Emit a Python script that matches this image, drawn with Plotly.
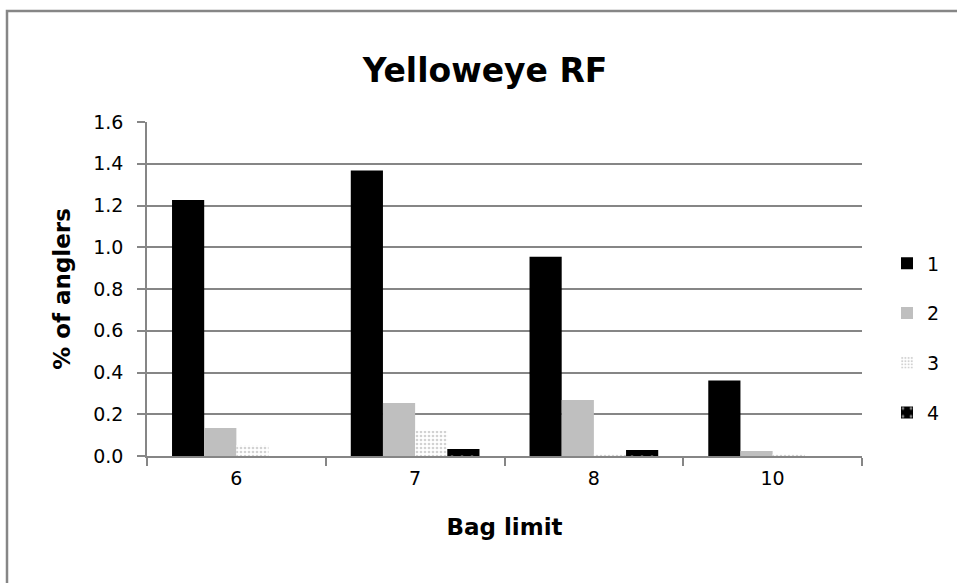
import plotly.graph_objects as go

categories = ["6", "7", "8", "10"]
series_names = ["1", "2", "3", "4"]
s1 = [1.226, 1.368, 0.955, 0.362]
s2 = [0.134, 0.254, 0.268, 0.024]
s3 = [0.053, 0.121, 0.010, 0.010]
s4 = [0.0, 0.034, 0.029, 0.0]

FONT = "'DejaVu Sans', 'Open Sans', sans-serif"

fig = go.Figure()
fig.add_trace(go.Bar(name=series_names[0], x=categories, y=s1, legendgroup="g1",
                     marker=dict(color="#000000", line=dict(width=0))))
fig.add_trace(go.Bar(name=series_names[1], x=categories, y=s2, legendgroup="g2",
                     marker=dict(color="#bfbfbf", line=dict(width=0))))
fig.add_trace(go.Bar(name=series_names[2], x=categories, y=s3, legendgroup="g3",
                     marker=dict(color="#ffffff", line=dict(width=0),
                                 pattern=dict(shape=".", fgcolor="#a6a6a6", bgcolor="#ffffff",
                                              size=4, solidity=0.35))))
fig.add_trace(go.Bar(name=series_names[3], x=categories, y=s4, legendgroup="g4",
                     marker=dict(color="#000000", line=dict(width=0),
                                 pattern=dict(shape=".", fgcolor="#ffffff", bgcolor="#000000",
                                              size=10, solidity=0.1))))

L, R, T, B = 147, 95, 122, 127
W, H = 957, 583
pw, ph = W - L - R, H - T - B

fig.update_layout(
    width=W, height=H,
    margin=dict(l=L, r=R, t=T, b=B, autoexpand=False),
    paper_bgcolor="white", plot_bgcolor="white",
    barmode="group", bargap=0.28, bargroupgap=0,
    font=dict(family=FONT, color="#000000"),
    title=dict(text="<b>Yelloweye RF</b>", x=(485 - L) / pw, xref="paper", xanchor="center",
               y=1 - 70 / H, yanchor="middle", font=dict(size=33, family=FONT)),
    legend=dict(x=(887 - L) / pw, xanchor="left", y=(456 - 338) / ph, yanchor="middle",
                font=dict(size=19, family=FONT), tracegroupgap=22, itemwidth=30,
                bgcolor="rgba(0,0,0,0)"),
    showlegend=True,
    shapes=[dict(type="rect", xref="paper", yref="paper",
                 x0=(7 - L) / pw, x1=(W + 20 - L) / pw,
                 y0=-(H + 20 - 456) / ph, y1=(456 - 11) / ph,
                 line=dict(color="#868686", width=2.5), fillcolor="rgba(0,0,0,0)", layer="below")],
)
fig.update_xaxes(
    type="category", tickson="boundaries", ticks="outside", ticklen=8,
    tickcolor="#868686", tickwidth=1.5, showline=True, linecolor="#868686", linewidth=1.5,
    tickfont=dict(size=19, family=FONT), ticklabelstandoff=4,
    title=dict(text="<b>Bag limit</b>", font=dict(size=23, family=FONT), standoff=31),
)
fig.update_yaxes(
    range=[0, 1.6], dtick=0.2, tickformat=".1f", ticks="outside", ticklen=8,
    tickcolor="#868686", tickwidth=1.5, showline=True, linecolor="#868686", linewidth=1.5,
    showgrid=True, gridcolor="#868686", gridwidth=1.5, zeroline=False,
    tickfont=dict(size=19, family=FONT), ticklabelstandoff=10,
    title=dict(text="<b>% of anglers</b>", font=dict(size=23, family=FONT), standoff=16),
)

fig.write_html("out.html")
